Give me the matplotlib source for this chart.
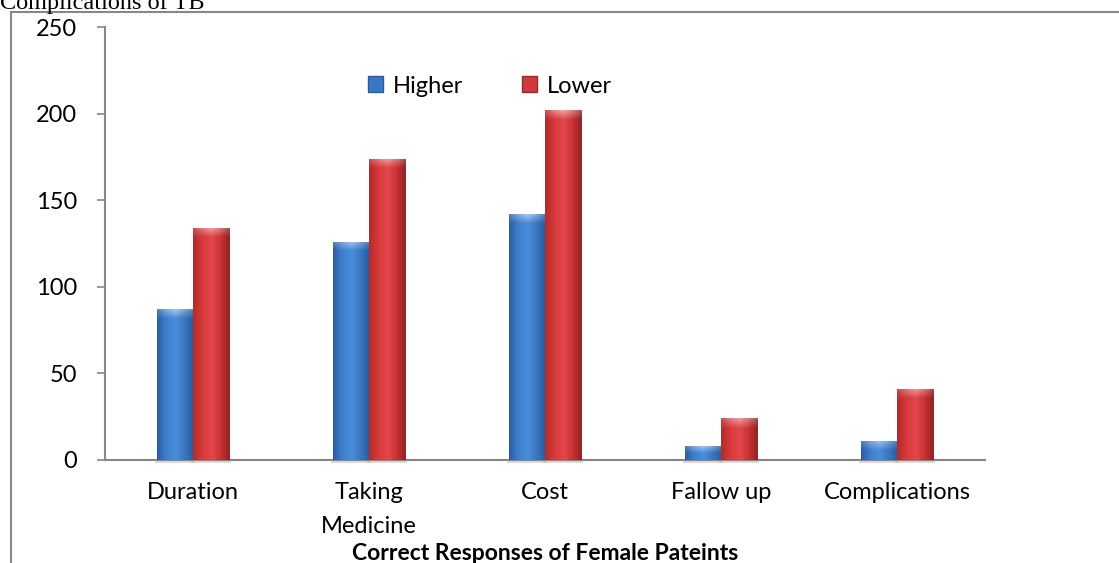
import numpy as np
import matplotlib
matplotlib.use("Agg")
import matplotlib.pyplot as plt
from matplotlib.colors import to_rgb
from matplotlib.lines import Line2D
from matplotlib.patches import Patch

# Data
categories = ["Duration", "Taking\nMedicine", "Cost", "Fallow up", "Complications"]
higher = [87, 126, 142, 8, 11]
lower = [134, 174, 202, 24, 41]
series_names = ["Higher", "Lower"]

plt.rcParams["font.family"] = ["Lato", "DejaVu Sans"]

W, H = 1119, 563
fig = plt.figure(figsize=(W / 100, H / 100), dpi=100)
ax = fig.add_axes([105 / W, 1 - 460 / H, 880 / W, 433 / H])

x = np.arange(len(categories))
bw = 0.205

blue_cols = ["#2c5e9f", "#3f7fcf", "#4a8ddc", "#3b77c4", "#2b5b98"]
red_cols = ["#b52a2a", "#d63a3b", "#e2464a", "#c93436", "#8e2222"]


def shaded(colors, n=40, rows=200, cap=0.0):
    # horizontal cylinder-ish gradient, lighter bevel fading down from the top
    stops = np.array([to_rgb(c) for c in colors])
    t = np.linspace(0, 1, n)
    pos = np.linspace(0, 1, len(stops))
    row = np.stack([np.interp(t, pos, stops[:, k]) for k in range(3)], axis=1)
    img = np.repeat(row[None, :, :], rows, axis=0)
    ncap = int(round(cap * rows))
    if ncap > 0:
        # bevel strongest at the middle of the top edge
        w = np.linspace(0.5, 0.0, ncap)[:, None] * (1 - 0.6 * np.abs(t - 0.5) * 2)[None, :]
        img[:ncap] = img[:ncap] * (1 - w[..., None]) + w[..., None]
    return img


px_per_unit = 433 / 250
cap_px = 10

for vals, cols, off, name in [(higher, blue_cols, -bw / 2, series_names[0]),
                              (lower, red_cols, bw / 2, series_names[1])]:
    bars = ax.bar(x + off, vals, bw, color=cols[2], edgecolor="none", zorder=2)
    for b in bars:
        h = b.get_height()
        frac = min(0.5, cap_px / (h * px_per_unit))
        img = shaded(cols, cap=frac)
        im = ax.imshow(img, extent=(b.get_x(), b.get_x() + b.get_width(), 0, h),
                       aspect="auto", zorder=3, interpolation="bilinear")
        im.set_clip_path(b)
        # soft shadow at the foot of each bar
        ax.fill_between([b.get_x() - 0.01, b.get_x() + b.get_width() + 0.01], -1.5, 0,
                        color="#999999", alpha=0.35, lw=0, zorder=1, clip_on=False)

ax.set_xlim(-0.5, len(categories) - 0.5)
ax.set_ylim(0, 250)
ax.set_yticks(np.arange(0, 251, 50))
ax.set_xticks(x)
ax.set_xticklabels(categories, linespacing=1.75, va="top")

for s in ["top", "right"]:
    ax.spines[s].set_visible(False)
for s in ["left", "bottom"]:
    ax.spines[s].set_color("#868686")
    ax.spines[s].set_linewidth(1.5)

ax.tick_params(axis="y", length=6, width=1.2, color="#868686", pad=14, labelsize=17)
ax.tick_params(axis="x", length=0, pad=16, labelsize=17)

fig.text(545 / W, 1 - 553 / H, "Correct Responses of Female Pateints", fontsize=16.5,
         fontweight="bold", ha="center", va="center")

handles = [Patch(facecolor="#3a78c6", edgecolor="#2b5b98"),
           Patch(facecolor="#cf3a3b", edgecolor="#9a2828")]
fig.legend(handles, series_names, loc="center left", ncol=2, frameon=False,
           bbox_to_anchor=(356 / W, 1 - 86 / H), fontsize=17,
           handlelength=0.65, handleheight=0.65, handletextpad=0.4,
           columnspacing=2.5, borderpad=0)

# surrounding frame and the clipped heading above it
fy = 1 - 12 / H
fx = 11 / W
fig.add_artist(Line2D([fx, fx], [0, fy], color="#888888", lw=1.5))
fig.add_artist(Line2D([fx, 1], [fy, fy], color="#888888", lw=1.5))
fig.text(0, 1 - 9 / H, "Complications of TB", family=["Liberation Serif", "DejaVu Serif"],
         fontsize=17.5, va="baseline", ha="left")

fig.savefig("out.png", dpi=100)
